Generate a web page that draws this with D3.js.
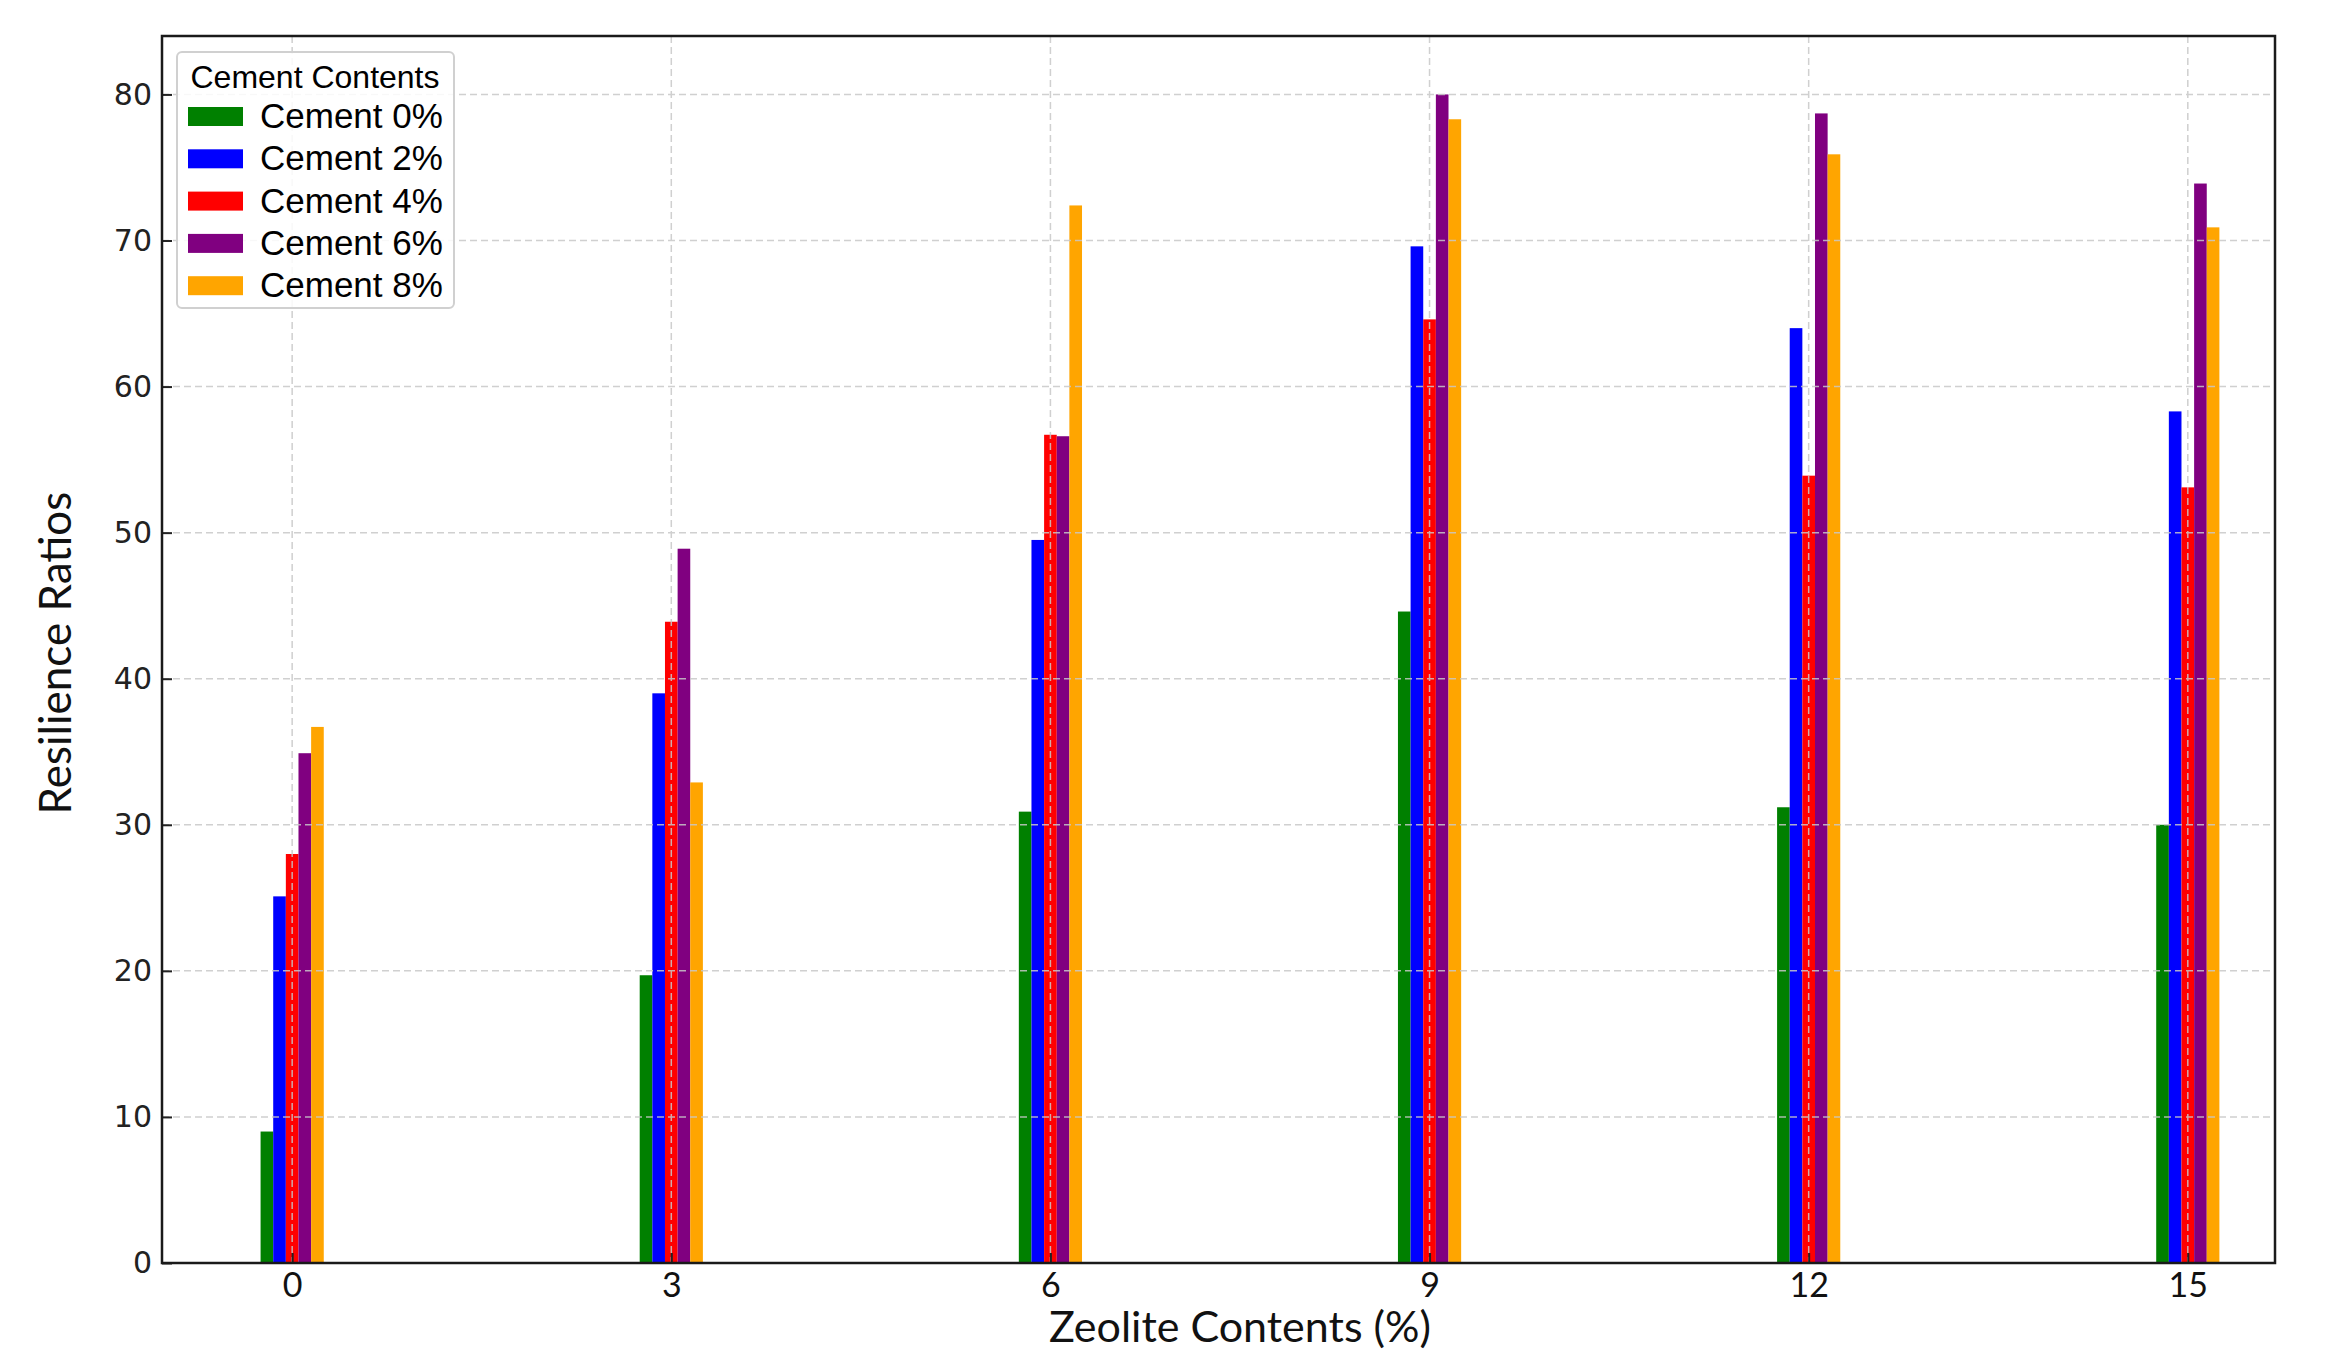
<!DOCTYPE html>
<html>
<head>
<meta charset="utf-8">
<script src="https://cdn.jsdelivr.net/npm/d3@7"></script>
<style>
  html, body { margin: 0; padding: 0; background: #fff; }
  svg { display: block; }
</style>
</head>
<body>
<div id="chart"></div>
<script>
// Zeolite contents (x positions) and cement series
const zeolite = [0, 3, 6, 9, 12, 15];
const seriesNames = ['Cement 0%', 'Cement 2%', 'Cement 4%', 'Cement 6%', 'Cement 8%'];
const seriesColors = ['green', 'blue', 'red', 'purple', 'orange'];

const cement0 = [9.0, 19.7, 30.9, 44.6, 31.2, 30.0];
const cement2 = [25.1, 39.0, 49.5, 69.6, 64.0, 58.3];
const cement4 = [28.0, 43.9, 56.7, 64.6, 53.9, 53.1];
const cement6 = [34.9, 48.9, 56.6, 80.0, 78.7, 73.9];
const cement8 = [36.7, 32.9, 72.4, 78.3, 75.9, 70.9];
const seriesValues = [cement0, cement2, cement4, cement6, cement8];

const yTicks = [0, 10, 20, 30, 40, 50, 60, 70, 80];

const W = 2349, H = 1370;
const plot = { left: 162, right: 2275, top: 36, bottom: 1263 };

const svg = d3.select('#chart').append('svg')
    .attr('width', W)
    .attr('height', H);

const x = d3.scaleLinear().domain([-1.03, 15.69]).range([plot.left, plot.right]);
const y = d3.scaleLinear().domain([0, 84]).range([plot.bottom, plot.top]);

const barW = 0.1;
const offsets = [-0.2, -0.1, 0, 0.1, 0.2];

// bars
seriesValues.forEach((vals, si) => {
    svg.append('g').selectAll('rect').data(vals).enter().append('rect')
        .attr('x', (d, i) => x(zeolite[i] + offsets[si] - barW / 2))
        .attr('width', x(barW) - x(0))
        .attr('y', d => y(d))
        .attr('height', d => y(0) - y(d))
        .attr('fill', seriesColors[si]);
});

// grid on top of bars
const grid = svg.append('g').attr('stroke', '#c8c8c8').attr('stroke-width', 1.5)
    .attr('stroke-dasharray', '7,4').attr('opacity', 0.85);
grid.selectAll('.gy').data(yTicks).enter().append('line')
    .attr('x1', plot.left).attr('x2', plot.right)
    .attr('y1', d => y(d)).attr('y2', d => y(d));
grid.selectAll('.gx').data(zeolite).enter().append('line')
    .attr('y1', plot.top).attr('y2', plot.bottom)
    .attr('x1', d => x(d)).attr('x2', d => x(d));

// axes with inward ticks
const yAxis = svg.append('g').attr('transform', `translate(${plot.left},0)`)
    .call(d3.axisLeft(y).tickValues(yTicks).tickSizeInner(-10).tickSizeOuter(0).tickPadding(10));
yAxis.select('.domain').remove();
yAxis.selectAll('line').attr('stroke', '#222').attr('stroke-width', 2);
yAxis.selectAll('text')
    .style('font-family', '"DejaVu Sans", sans-serif')
    .style('font-size', '30px')
    .attr('fill', '#222');

const xAxis = svg.append('g').attr('transform', `translate(0,${plot.bottom})`)
    .call(d3.axisBottom(x).tickValues(zeolite).tickSizeInner(-10).tickSizeOuter(0).tickPadding(10));
xAxis.select('.domain').remove();
xAxis.selectAll('line').attr('stroke', '#222').attr('stroke-width', 2);
xAxis.selectAll('text')
    .style('font-family', 'Lato, sans-serif')
    .style('font-size', '34px')
    .attr('fill', '#111');

// frame
svg.append('rect')
    .attr('x', plot.left).attr('y', plot.top)
    .attr('width', plot.right - plot.left).attr('height', plot.bottom - plot.top)
    .attr('fill', 'none').attr('stroke', '#1a1a1a').attr('stroke-width', 2.5);

// axis titles
svg.append('text')
    .attr('x', 1240).attr('y', 1342)
    .attr('text-anchor', 'middle')
    .style('font-family', 'Lato, sans-serif')
    .style('font-size', '43px')
    .attr('fill', '#111')
    .text('Zeolite Contents (%)');

svg.append('text')
    .attr('transform', 'translate(71,653) rotate(-90)')
    .attr('text-anchor', 'middle')
    .style('font-family', 'Lato, sans-serif')
    .style('font-size', '44px')
    .attr('fill', '#111')
    .text('Resilience Ratios');

// legend
const lg = svg.append('g');
lg.append('rect')
    .attr('x', 177).attr('y', 52).attr('width', 277).attr('height', 256)
    .attr('rx', 5)
    .attr('fill', 'rgba(255,255,255,0.85)')
    .attr('stroke', '#d0d0d0').attr('stroke-width', 2);
lg.append('text')
    .attr('x', 315).attr('y', 88)
    .attr('text-anchor', 'middle')
    .style('font-family', '"Liberation Sans", Arial, sans-serif')
    .style('font-size', '32px')
    .attr('fill', '#000')
    .text('Cement Contents');
const rows = lg.selectAll('.row').data(seriesNames).enter().append('g')
    .attr('transform', (d, i) => `translate(0,${116 + i * 42.3})`);
rows.append('rect')
    .attr('x', 188).attr('y', -9).attr('width', 55).attr('height', 19)
    .attr('fill', (d, i) => seriesColors[i]);
rows.append('text')
    .attr('x', 260).attr('y', 12)
    .style('font-family', '"Liberation Sans", Arial, sans-serif')
    .style('font-size', '35px')
    .attr('fill', '#000')
    .text(d => d);
</script>
</body>
</html>
